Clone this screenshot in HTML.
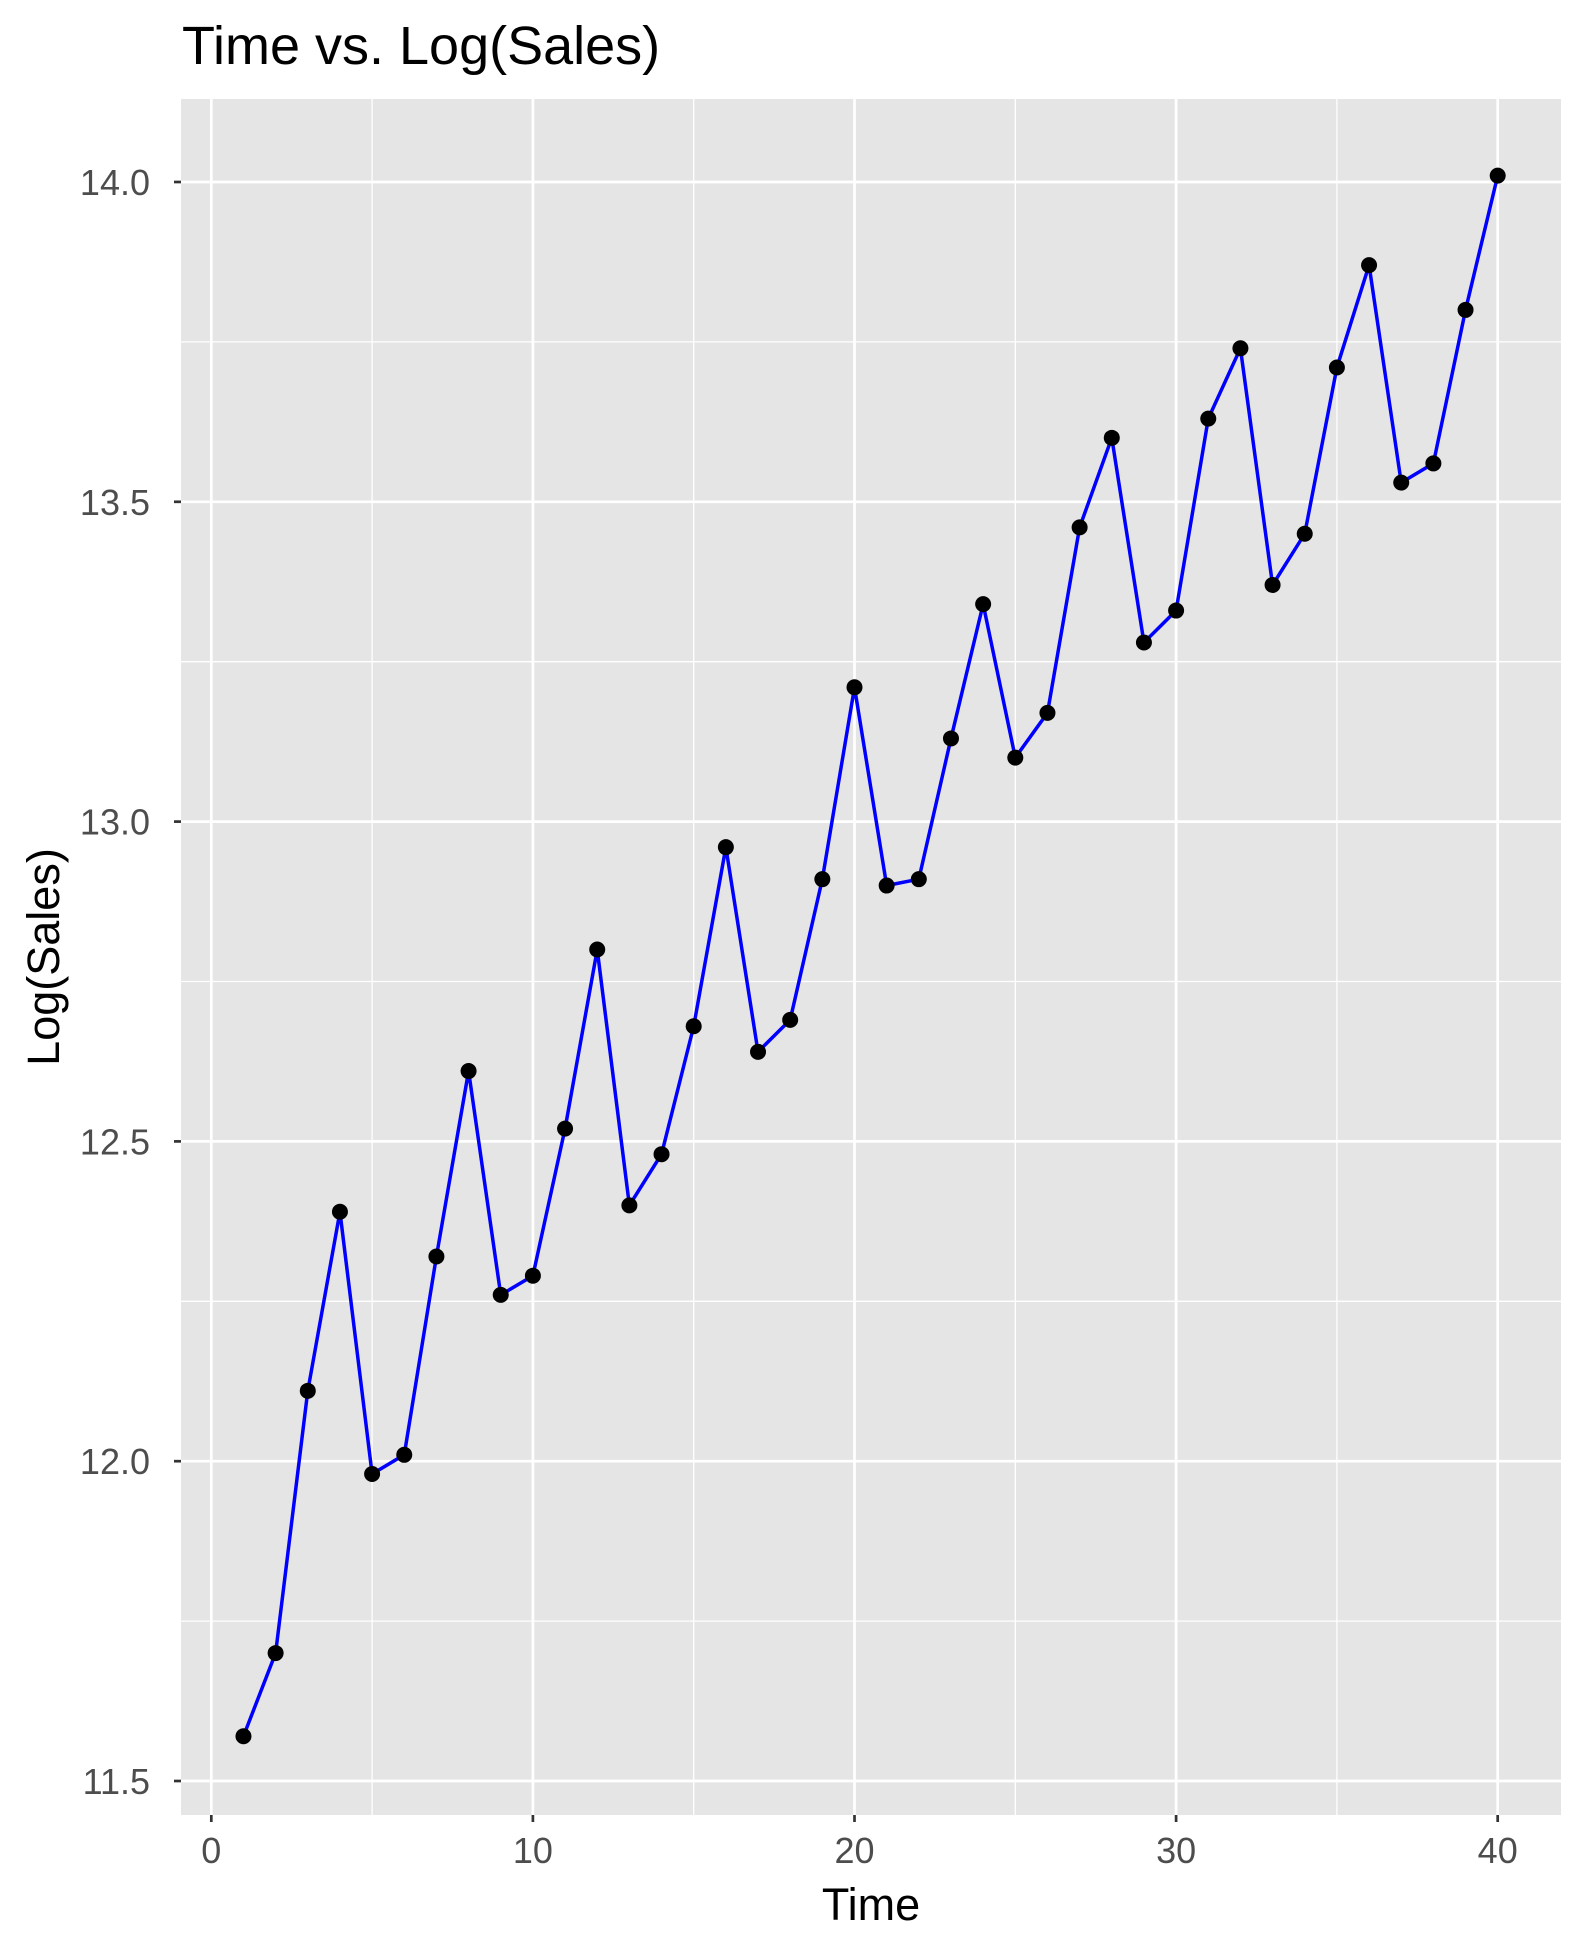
<!DOCTYPE html>
<html><head><meta charset="utf-8"><style>
html,body{margin:0;padding:0;background:#fff;}
svg{display:block;font-family:"Liberation Sans",sans-serif;}
</style></head><body>
<svg id="chart" width="1583" height="1941" viewBox="0 0 1583 1941">
<text x="182" y="64" font-size="54" fill="#000">Time vs. Log(Sales)</text>
<rect x="181" y="99" width="1380" height="1716" fill="#e5e5e5"/>
<g id="grid"></g>
<g id="axes"></g>
<path id="line" fill="none" stroke="#0000ff" stroke-width="3.5"/>
<g id="points"></g>
<text x="871" y="1920" font-size="45" text-anchor="middle" fill="#000">Time</text>
<text transform="translate(59,957) rotate(-90)" font-size="45" text-anchor="middle" fill="#000">Log(Sales)</text>
</svg>
<script>
const times=[1,2,3,4,5,6,7,8,9,10,11,12,13,14,15,16,17,18,19,20,21,22,23,24,25,26,27,28,29,30,31,32,33,34,35,36,37,38,39,40];
const logSales=[11.57,11.70,12.11,12.39,11.98,12.01,12.32,12.61,12.26,12.29,12.52,12.80,12.40,12.48,12.68,12.96,12.64,12.69,12.91,13.21,12.90,12.91,13.13,13.34,13.10,13.17,13.46,13.60,13.28,13.33,13.63,13.74,13.37,13.45,13.71,13.87,13.53,13.56,13.80,14.01];
const xTicks=[0,10,20,30,40];
const yTicks=[11.5,12.0,12.5,13.0,13.5,14.0];
const xMinor=[5,15,25,35];
const yMinor=[11.75,12.25,12.75,13.25,13.75];
const NS='http://www.w3.org/2000/svg';
const L=181,R=1561,T=99,B=1815;
function sx(v){return 211.3+(v-0)*(1497.7-211.3)/40;}
function sy(v){return 1781+(v-11.5)*(182-1781)/2.5;}
function mk(tag,attrs,parent){const e=document.createElementNS(NS,tag);for(const k in attrs)e.setAttribute(k,attrs[k]);parent.appendChild(e);return e;}
const grid=document.getElementById('grid'),axes=document.getElementById('axes');
yMinor.forEach(v=>{const e=mk('line',{x1:L,x2:R,y1:sy(v),y2:sy(v),stroke:'#fff','stroke-width':1.3},grid);

});
xMinor.forEach(v=>{const e=mk('line',{x1:sx(v),x2:sx(v),y1:T,y2:B,stroke:'#fff','stroke-width':1.3},grid);

});
yTicks.forEach(v=>{const e=mk('line',{x1:L,x2:R,y1:sy(v),y2:sy(v),stroke:'#fff','stroke-width':2.7},grid);


const t=mk('line',{x1:L-7,x2:L,y1:sy(v),y2:sy(v),stroke:'#333','stroke-width':2.7},axes);


const lb=mk('text',{x:L-31,y:sy(v)+13,'font-size':36,'text-anchor':'end',fill:'#4d4d4d'},axes);lb.textContent=v.toFixed(1);

});
xTicks.forEach(v=>{const e=mk('line',{x1:sx(v),x2:sx(v),y1:T,y2:B,stroke:'#fff','stroke-width':2.7},grid);


const t=mk('line',{x1:sx(v),x2:sx(v),y1:B,y2:B+7,stroke:'#333','stroke-width':2.7},axes);


const lb=mk('text',{x:sx(v),y:B+48,'font-size':36,'text-anchor':'middle',fill:'#4d4d4d'},axes);lb.textContent=v;

});
document.getElementById('line').setAttribute('d',times.map((t,i)=>(i?'L':'M')+sx(t)+' '+sy(logSales[i])).join(' '));
const pts=document.getElementById('points');
times.forEach((t,i)=>{const c=mk('circle',{cx:sx(t),cy:sy(logSales[i]),r:8,fill:'#000'},pts);

});
</script>
</body></html>
